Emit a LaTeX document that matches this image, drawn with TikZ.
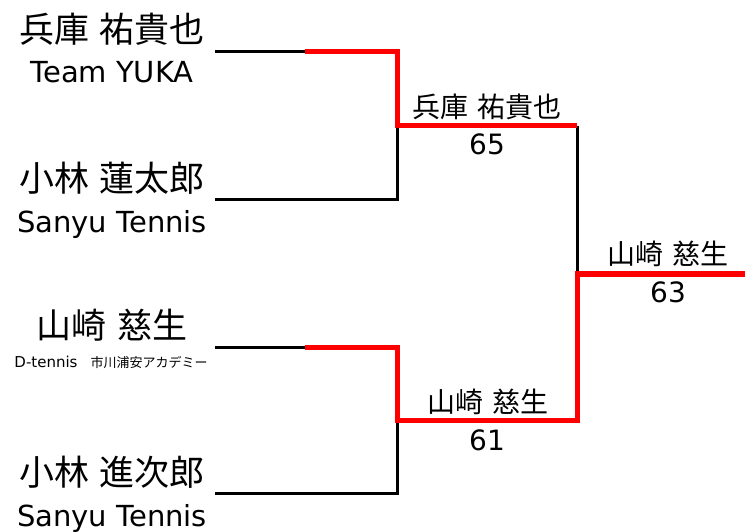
\documentclass[tikz,border=0pt]{standalone}
\usepackage{fontspec}
\setmainfont{DejaVu Sans}
\newfontfamily\jp{Noto Sans CJK JP}
\definecolor{winred}{HTML}{FF0000}
\tikzset{
  bigname/.style={inner sep=0pt, font=\jp\fontsize{35bp}{40bp}\selectfont},
  rdname/.style={inner sep=0pt, font=\jp\fontsize{28bp}{32bp}\selectfont},
  team/.style={inner sep=0pt, anchor=base, font=\fontsize{29bp}{34bp}\selectfont},
  score/.style={inner sep=0pt, anchor=base, font=\fontsize{28bp}{34bp}\selectfont},
  small/.style={inner sep=0pt, anchor=base, font=\fontsize{15bp}{18bp}\selectfont},
  loser/.style={draw=black, line width=3bp, line join=miter},
  winner/.style={draw=winred, line width=5bp, line join=miter}
}
\begin{document}
\begin{tikzpicture}[x=1bp,y=-1bp]
\useasboundingbox (0,0) rectangle (745,532);
% players
\node[bigname] (n1) at (112,29) {兵庫\hspace{0.3em}祐貴也};
\node[team] (t1) at (112,83) {Team YUKA};
\node[bigname] (n2) at (112,178) {小林\hspace{0.3em}蓮太郎};
\node[team] (t2) at (112,233) {Sanyu Tennis};
\node[bigname] (n3) at (112,325) {山崎\hspace{0.3em}慈生};
\node[small] (t3) at (111,367) {D-tennis{\jp\fontsize{13bp}{16bp}\selectfont 　市川浦安アカデミー}};
\node[bigname] (n4) at (112,472) {小林\hspace{0.3em}進次郎};
\node[team] (t4) at (112,526) {Sanyu Tennis};
% round winners
\node[rdname] (w1) at (487,107) {兵庫\hspace{0.3em}祐貴也};
\node[score] (s1) at (487,155) {65};
\node[rdname] (w2) at (488,402) {山崎\hspace{0.3em}慈生};
\node[score] (s2) at (487,450) {61};
\node[rdname] (w3) at (668,254) {山崎\hspace{0.3em}慈生};
\node[score] (s3) at (668,302) {63};
% bracket points
\coordinate (e1) at (215,52);
\coordinate (m1) at (305,52);
\coordinate (c1) at (397,52);
\coordinate (k1) at (397,126);
\coordinate (c2) at (397,200);
\coordinate (e2) at (215,200);
\coordinate (r1) at (577,126);
\coordinate (f) at (577,274);
\coordinate (fe) at (745,274);
\coordinate (e3) at (215,347);
\coordinate (m3) at (305,347);
\coordinate (c3) at (397,347);
\coordinate (k3) at (397,420);
\coordinate (c4) at (397,493);
\coordinate (e4) at (215,493);
\coordinate (r3) at (577,420);
% losers' lines
\draw[loser] (e1) -- (m1);
\draw[loser] (e2) -- (c2) -- (k1);
\draw[loser] (r1) -- (f);
\draw[loser] (e3) -- (m3);
\draw[loser] (e4) -- (c4) -- (k3);
% winners' lines
\draw[winner] (m1) -- (c1) -- (k1) -- (r1);
\draw[winner] (m3) -- (c3) -- (k3) -- (r3) -- (f) -- (fe);
\end{tikzpicture}
\end{document}
